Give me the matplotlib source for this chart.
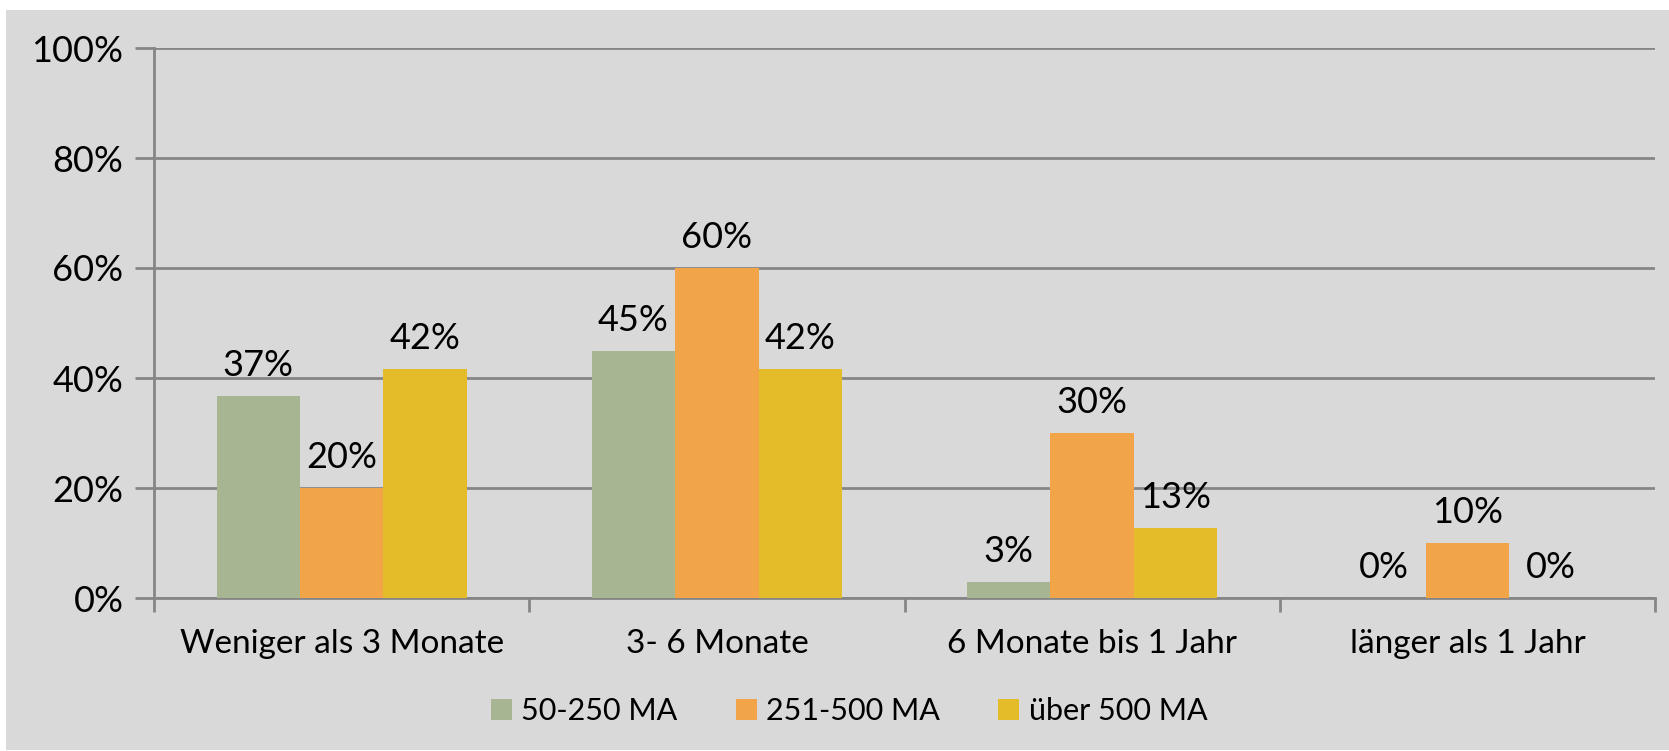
import numpy as np
import matplotlib.pyplot as plt
from matplotlib.patches import Rectangle

# Data
categories = ['Weniger als 3 Monate', '3- 6 Monate', '6 Monate bis 1 Jahr', 'länger als 1 Jahr']
series_names = ['50-250 MA', '251-500 MA', 'über 500 MA']
v_small = [0.367, 0.45, 0.03, 0.0]
v_mid = [0.20, 0.60, 0.30, 0.10]
v_large = [0.417, 0.417, 0.127, 0.0]
colors = ['#a7b592', '#f2a548', '#e4bc2a']

plt.rcParams['font.family'] = ['Lato', 'DejaVu Sans']

W, H = 1669, 751
fig = plt.figure(figsize=(W / 100, H / 100), dpi=100, facecolor='white')
bg = '#d9d9d9'
fig.patches.append(Rectangle((6 / W, 1 / H), 1 - 6 / W, (H - 11) / H,
                             transform=fig.transFigure, facecolor=bg,
                             edgecolor='none', zorder=-10))

ax = fig.add_axes([154 / W, 1 - 598 / H, (1655 - 154) / W, 550 / H])
ax.set_facecolor(bg)

x = np.arange(len(categories))
w = 0.222
for i, (vals, name) in enumerate(zip([v_small, v_mid, v_large], series_names)):
    pos = x + (i - 1) * w
    ax.bar(pos, vals, width=w, color=colors[i], label=name, zorder=3)
    for px, v in zip(pos, vals):
        ax.text(px, v + 0.025, f'{v:.0%}', ha='center', va='bottom',
                fontsize=26, zorder=4)

ax.set_xlim(-0.5, len(categories) - 0.5)
ax.set_ylim(0, 1.0)
ax.set_yticks(np.arange(0, 1.01, 0.2))
ax.set_yticklabels([f'{t:.0%}' for t in np.arange(0, 1.01, 0.2)], fontsize=26)
ax.yaxis.grid(True, color='#868686', linewidth=2, zorder=1)
ax.tick_params(axis='y', length=14, width=2, color='#868686', pad=8)

ax.set_xticks(x)
ax.set_xticklabels(categories, fontsize=24)
ax.set_xticks(np.arange(-0.5, len(categories), 1), minor=True)
ax.tick_params(axis='x', which='major', length=0, pad=22)
ax.tick_params(axis='x', which='minor', length=10, width=2, color='#868686')

for s in ['top', 'right']:
    ax.spines[s].set_visible(False)
for s in ['left', 'bottom']:
    ax.spines[s].set_color('#868686')
    ax.spines[s].set_linewidth(2)

leg = fig.legend(loc='center', bbox_to_anchor=(849 / W, 1 - 711 / H), ncol=3,
                 frameon=False, fontsize=22, handlelength=0.7, handleheight=0.7,
                 handletextpad=0.3, columnspacing=1.9)

fig.savefig('out.png', dpi=100, facecolor='white')
